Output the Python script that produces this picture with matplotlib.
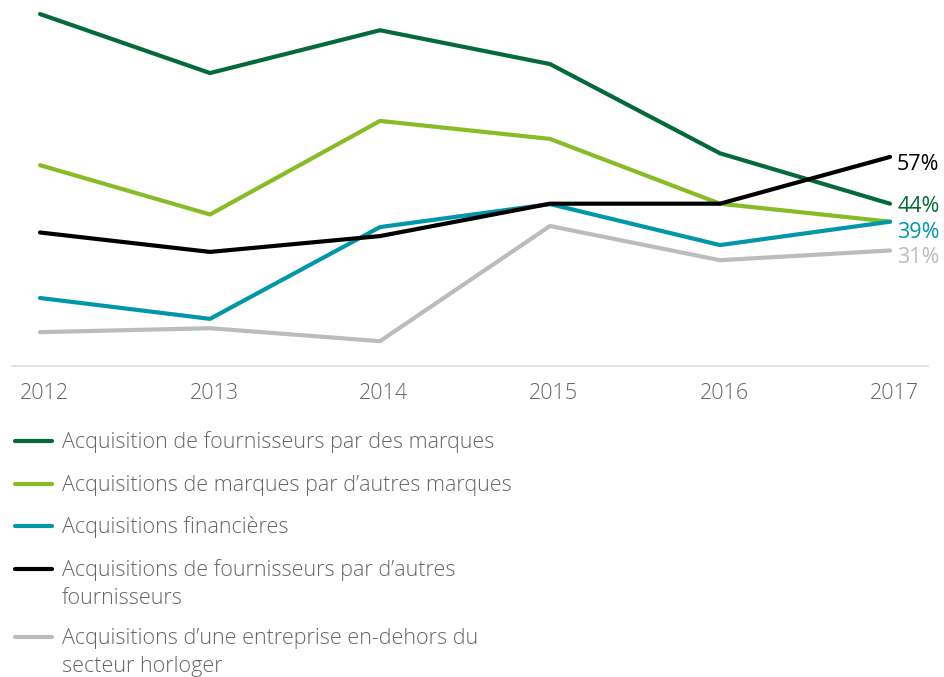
import matplotlib.pyplot as plt
from matplotlib.lines import Line2D
from matplotlib.transforms import ScaledTranslation

plt.rcParams['font.family'] = ['Open Sans', 'DejaVu Sans']

# Data (in %)
years = [2012, 2013, 2014, 2015, 2016, 2017]
fournisseurs_marques = [96.7, 80.3, 92.2, 82.8, 58, 44]
marques_marques = [54.7, 41, 67, 62, 44, 39]
financieres = [17.8, 12, 37.5, 43.9, 32.5, 39]
fournisseurs_fournisseurs = [36, 30.6, 35, 44, 44, 57]
hors_horlogerie = [8.3, 9.4, 5.8, 37.8, 28.3, 31]

series_names = [
    "Acquisition de fournisseurs par des marques",
    "Acquisitions de marques par d\u2019autres marques",
    "Acquisitions financi\u00e8res",
    "Acquisitions de fournisseurs par d\u2019autres\nfournisseurs",
    "Acquisitions d\u2019une entreprise en-dehors du\nsecteur horloger",
]
series_values = [fournisseurs_marques, marques_marques, financieres,
                 fournisseurs_fournisseurs, hors_horlogerie]
colors = ["#046A38", "#86BC25", "#0097A9", "#000000", "#BBBCBC"]
end_labels = ["44%", None, "39%", "57%", "31%"]
label_dy = [-8, 0, -16, -13, -13]   # pixel shift of end labels (baseline)

W, H = 945, 677
fig = plt.figure(figsize=(9.45, 6.77), dpi=100)
ax = fig.add_axes([0, (H - 366) / H, 1, 366 / H])

for vals, c in zip(series_values, colors):
    ax.plot(years, vals, color=c, lw=3, solid_capstyle='round',
            solid_joinstyle='round')

for vals, c, lab, dy in zip(series_values, colors, end_labels, label_dy):
    if lab is None:
        continue
    ax.annotate(lab, (years[-1], vals[-1]), xytext=(7, dy),
                textcoords='offset pixels', color=c, fontsize=15.5,
                va='baseline', ha='left')

ax.set_xlim(2012 - 40 / 170, 2017 + 55 / 170)
ax.set_ylim(-1.1, 100.6)
ax.set_xticks(years)
ax.set_xticklabels([str(y) for y in years])
ax.tick_params(axis='x', length=0, pad=12, labelsize=15.5, labelcolor='#666666')
ax.set_yticks([])
for s in ['top', 'left', 'right']:
    ax.spines[s].set_visible(False)
ax.spines['bottom'].set_color('#DDDDDD')
ax.spines['bottom'].set_linewidth(1.2)
ax.spines['bottom'].set_bounds(2012 - 28 / 170, 2017 + 38 / 170)
shift = ScaledTranslation(4 / 100, 0, fig.dpi_scale_trans)
for lbl in ax.get_xticklabels():
    lbl.set_fontweight('light')
    lbl.set_transform(lbl.get_transform() + shift)

# Legend drawn by hand
legend_y = [441, 484, 526, 569, 637]
for name, c, ly in zip(series_names, colors, legend_y):
    fig.add_artist(Line2D([15 / W, 52 / W], [1 - ly / H, 1 - ly / H],
                          color=c, lw=3, solid_capstyle='round'))
    for i, line in enumerate(name.split("\n")):
        fig.text(62 / W, 1 - (ly + 7 + 28 * i) / H, line, fontsize=15.5,
                 color='#666666', va='baseline', ha='left', fontweight='light')

fig.savefig("out.png", dpi=100)
